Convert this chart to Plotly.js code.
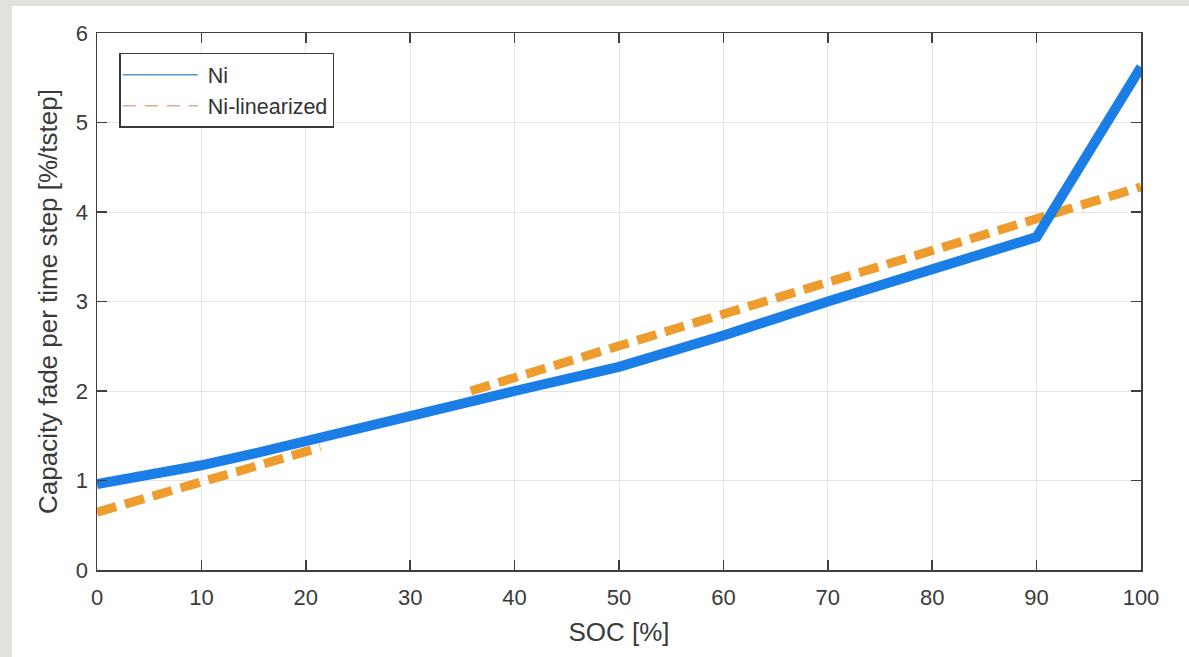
<!DOCTYPE html>
<html>
<head>
<meta charset="utf-8">
<script src="https://cdn.plot.ly/plotly-3.0.1.min.js"></script>
<style>
  html, body { margin: 0; padding: 0; background: #e1e1dd; width: 1189px; height: 657px; overflow: hidden; }
  #chart { position: absolute; left: 12px; top: 6px; width: 1177px; height: 651px; background: #fff; }
</style>
</head>
<body>
<div id="chart"></div>
<script>
// Data
const socNi = [0, 5, 10, 15, 20, 25, 30, 35, 40, 50, 60, 70, 80, 90, 100];
const fadeNi = [0.96, 1.06, 1.17, 1.30, 1.44, 1.59, 1.74, 1.88, 2.0, 2.27, 2.62, 3.0, 3.36, 3.72, 5.62];
// visible parts of the linearized curve (the middle part is hidden under the Ni line)
const socLin = [0, 21.4, null, 35.8, 100];
const fadeLin = [0.645, 1.37, null, 2.0, 4.28];
const seriesNames = ['Ni', 'Ni-linearized'];
const xTicks = [0, 10, 20, 30, 40, 50, 60, 70, 80, 90, 100];
const yTicks = [0, 1, 2, 3, 4, 5, 6];

const blue = '#1a7ee6';
const orange = '#ee9c2e';
const font = 'Liberation Sans, Arial, sans-serif';

const traces = [
  { // linearized, drawn first so Ni sits on top
    x: socLin, y: fadeLin, type: 'scatter', mode: 'lines',
    line: { color: orange, width: 9, dash: '20px,9px' },
    connectgaps: false, showlegend: false, hoverinfo: 'skip'
  },
  {
    x: socNi, y: fadeNi, type: 'scatter', mode: 'lines',
    line: { color: blue, width: 10 },
    showlegend: false, hoverinfo: 'skip'
  },
  { // legend entries (thin samples, like the reference)
    x: [null], y: [null], type: 'scatter', mode: 'lines', name: seriesNames[0],
    line: { color: '#4f98cc', width: 1.5 }
  },
  {
    x: [null], y: [null], type: 'scatter', mode: 'lines', name: seriesNames[1],
    line: { color: '#e6a888', width: 1.5, dash: '13px,9px' }
  }
];

const axisCommon = {
  showline: true, linecolor: '#3f3f3f', linewidth: 1.5, mirror: 'ticks',
  ticks: 'inside', ticklen: 10, tickwidth: 1.5, tickcolor: '#3f3f3f',
  showgrid: true, gridcolor: '#e4e4e4', gridwidth: 1,
  zeroline: false,
  tickfont: { family: font, size: 22, color: '#3a3a3a' }
};

const layout = {
  width: 1177, height: 651,
  margin: { l: 85, r: 48, t: 27, b: 87 },
  paper_bgcolor: '#ffffff', plot_bgcolor: '#ffffff',
  showlegend: true,
  legend: {
    x: 0.0214, y: 0.963, xanchor: 'left', yanchor: 'top',
    bgcolor: '#ffffff', bordercolor: '#3a3a3a', borderwidth: 1.5,
    font: { family: font, size: 21.5, color: '#333333' },
    itemwidth: 77, tracegroupgap: 0
  },
  xaxis: Object.assign({}, axisCommon, {
    range: [0, 100], tickvals: xTicks, ticklabelstandoff: 7,
    title: { text: 'SOC [%]', font: { family: font, size: 26, color: '#3a3a3a' }, standoff: 14 }
  }),
  yaxis: Object.assign({}, axisCommon, {
    range: [0, 6], tickvals: yTicks, ticklabelstandoff: 3,
    title: { text: 'Capacity fade per time step [%/tstep]', font: { family: font, size: 26, color: '#3a3a3a' }, standoff: 10 }
  })
};

Plotly.newPlot('chart', traces, layout, { staticPlot: true, displayModeBar: false }).then(function () {
  document.querySelectorAll('.legend .legendlines path').forEach(function (p) {
    p.setAttribute('d', 'M2,0h75');
  });
});
</script>
</body>
</html>
